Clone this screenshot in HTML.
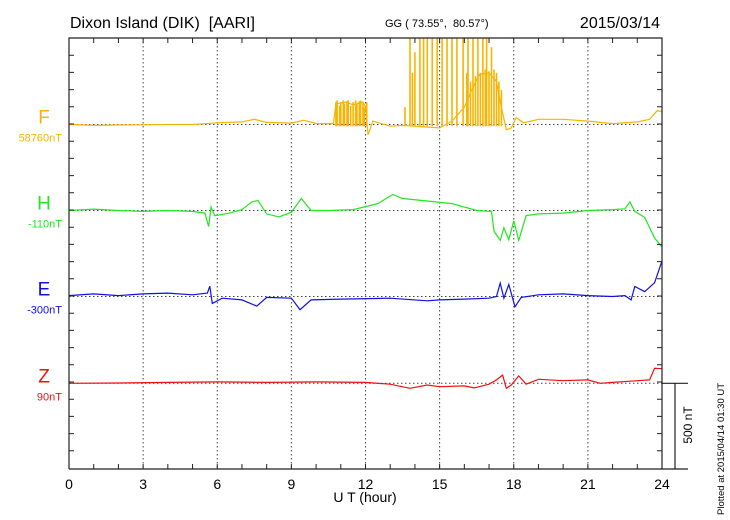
<!DOCTYPE html>
<html><head><meta charset="utf-8"><style>
body{margin:0;background:#fff;}
svg{display:block;font-family:"Liberation Sans",sans-serif;}
</style></head><body>
<svg id="chart" width="730" height="520">
<text x="70" y="28" font-size="16">Dixon Island (DIK)&#160; [AARI]</text>
<text x="385" y="27" font-size="11">GG ( 73.55°,&#160; 80.57°)</text>
<text x="660" y="28" font-size="16" text-anchor="end">2015/03/14</text>
<g id="grid"></g>
<g id="series"></g>
<g id="axes"></g>
<text x="365" y="502" font-size="14" text-anchor="middle">U T (hour)</text>
<text transform="translate(692,425) rotate(-90)" font-size="12" text-anchor="middle">500 nT</text>
<text transform="translate(724,515) rotate(-90)" font-size="9.5">Plotted at 2015/04/14 01:30 UT</text>
</svg>
<script>
const xTicks=[0,3,6,9,12,15,18,21,24];
const compNames=['F','H','E','Z'];
const compBaseLabels=['58760nT','-110nT','-300nT','90nT'];
const fT=[0,1,2,3,4,5,6,7,7.5,8,9,9.5,10,10.7,10.8,11.2,11.5,11.9,12.0,12.1,12.3,13,13.5,14,15,15.5,16,16.3,16.6,17,17.3,17.5,17.7,17.9,18.1,18.4,19,20,21,22,23,23.5,23.8,24];
const fV=[0,-5,-3,-2,0,0,10,15,30,12,8,25,5,5,120,130,115,130,100,-60,20,-10,-5,-10,-20,20,100,200,290,300,250,100,-30,-20,40,10,30,30,20,5,15,30,80,75];
const fSpikeT=[10.8,10.85,10.95,11.0,11.1,11.15,11.25,11.3,11.4,11.5,11.6,11.65,11.75,11.8,11.9,11.95,12.05,13.6,13.8,13.9,14.0,14.2,14.35,14.5,14.7,14.9,15.1,15.3,15.5,15.7,15.95,16.1,16.15,16.25,16.35,16.45,16.55,16.65,16.75,16.85,16.9,17.0,17.1,17.2,17.3,17.4,17.5];
const fSpikeV=[130,140,110,130,140,120,135,140,110,130,140,120,135,140,130,100,130,100,520,300,420,520,520,520,520,520,520,520,520,520,520,300,520,250,520,280,520,300,520,320,520,310,450,320,300,250,200];
const hT=[0,1,2,3,4,5,5.5,5.65,5.75,5.9,6.5,7,7.4,7.65,8.0,8.5,9.0,9.4,9.8,10.5,11.5,12.5,13.1,13.5,14.5,15.5,16.5,17.1,17.2,17.45,17.6,17.8,18.0,18.2,18.5,19,20,21,22,22.5,22.7,22.9,23.3,23.7,24];
const hV=[0,8,0,-5,0,-5,-15,-93,20,-30,-15,5,50,58,-20,-37,-10,70,0,0,5,40,93,70,55,40,0,-5,-120,-174,-100,-170,-60,-174,-30,-20,-15,0,5,10,50,-5,-40,-160,-213];
const eT=[0,1,2,3,4,5,5.6,5.7,5.8,6.2,7,7.6,8,9,9.35,9.8,11,13,14.5,15,16,17,17.3,17.45,17.6,17.8,18.05,18.3,19,20,21,22,22.5,22.75,22.9,23.3,23.7,24];
const eV=[5,15,5,15,20,10,20,60,-40,-10,-20,-56,-5,-10,-77,-20,-15,-10,-25,-20,-15,-10,0,78,-10,70,-60,-5,10,15,5,0,5,-20,58,28,80,207];
const zT=[0,2,4,6,8,10,12,13,13.8,14.5,15,16,16.4,17,17.3,17.55,17.7,17.9,18.2,18.5,19,20,21,21.5,22,23,23.5,23.7,24];
const zV=[0,2,5,8,5,8,5,-5,-29,-10,-20,-15,-27,-5,20,48,-29,-10,43,-5,23,15,20,0,5,15,20,87,85];

const NS='http://www.w3.org/2000/svg';
const X0=69,X1=662,TOP=38,BOT=469;
const bases=[124.5,210.5,296.5,383.3];
const colors=['#f7b400','#1ee81e','#1010e0','#f01010'];
const pxPerNT=86/500;
function xs(h){return X0+h*(X1-X0)/24;}
function ys(i,v){return bases[i]-v*pxPerNT;}
function mk(tag,attrs,parent){const e=document.createElementNS(NS,tag);for(const k in attrs)e.setAttribute(k,attrs[k]);parent.appendChild(e);return e;}
const grid=document.getElementById('grid'),axes=document.getElementById('axes'),ser=document.getElementById('series'),svg=document.getElementById('chart');
const defs=mk('defs',{},svg);const cp=mk('clipPath',{id:'pc'},defs);mk('rect',{x:X0,y:TOP,width:X1-X0,height:BOT-TOP},cp);
ser.setAttribute('clip-path','url(#pc)');
xTicks.forEach(h=>{
  if(h>0&&h<24){const l=mk('line',{x1:xs(h),x2:xs(h),y1:TOP,y2:BOT,stroke:'#444','stroke-dasharray':'1.5,2.5','stroke-width':1},grid);
  }
  const t=mk('text',{x:xs(h),y:489,'font-size':14,'text-anchor':'middle'},axes);t.textContent=h;
  
});
bases.forEach(b=>{const l=mk('line',{x1:X0,x2:X1,y1:b,y2:b,stroke:'#444','stroke-dasharray':'1.5,2.5'},grid);
  });
const fr=mk('path',{d:`M${X0},${BOT}V${TOP}H${X1}V${BOT}`,fill:'none',stroke:'#222','stroke-width':1.2},axes);

const bx=mk('line',{x1:X0,x2:688,y1:BOT,y2:BOT,stroke:'#222','stroke-width':1.2},axes);

let d='';
for(let h=1;h<24;h++){d+=`M${xs(h)},${TOP}v5M${xs(h)},${BOT}v-5`;}
for(let y=TOP+17.2;y<BOT-2;y+=17.2){d+=`M${X0},${y}h5M${X1},${y}h-5`;}
const tk=mk('path',{d:d,stroke:'#222','stroke-width':1},axes);

const sb=mk('path',{d:`M${X1},${bases[3]}H688M675,${bases[3]}V${BOT}`,stroke:'#222','stroke-width':1.2,fill:'none'},axes);

compNames.forEach((n,i)=>{
  const t=mk('text',{x:44,y:bases[i]-1,'font-size':19,'text-anchor':'middle',fill:colors[i]},axes);t.textContent=n;
  
  const b=mk('text',{x:62,y:bases[i]+17,'font-size':11,'text-anchor':'end',fill:colors[i]},axes);b.textContent=compBaseLabels[i];
  
});
function line(T,V,i,name){
  const p=T.map((t,k)=>(k?'L':'M')+xs(t).toFixed(1)+','+ys(i,V[k]).toFixed(1)).join('');
  const e=mk('path',{d:p,fill:'none',stroke:colors[i],'stroke-width':1.2},ser);
  
}
line(fT,fV,0,'series-f');
let sd='';fSpikeT.forEach((t,k)=>{sd+=`M${xs(t).toFixed(1)},${ys(0,-10).toFixed(1)}V${ys(0,fSpikeV[k]).toFixed(1)}`;});
const sp=mk('path',{d:sd,stroke:colors[0],'stroke-width':1.6},ser);

line(hT,hV,1,'series-h');
line(eT,eV,2,'series-e');
line(zT,zV,3,'series-z');
</script>
</body></html>
